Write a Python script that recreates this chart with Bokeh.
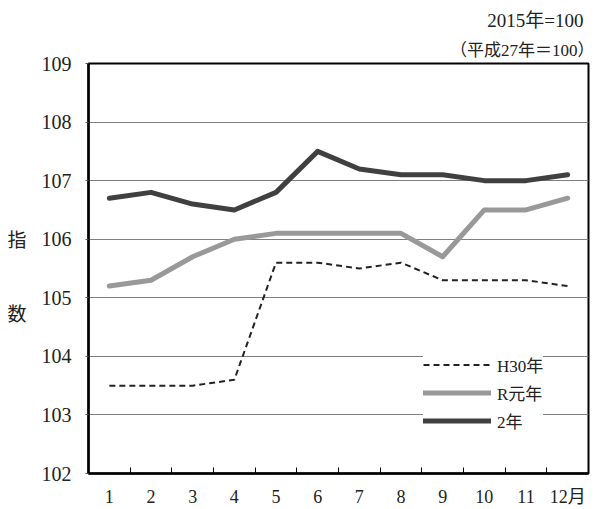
from bokeh.plotting import figure
from bokeh.models import (Range1d, FixedTicker, Legend, LegendItem, ColumnDataSource, Title)
from bokeh.embed import file_html
from bokeh.resources import INLINE

months = list(range(1, 13))
month_labels = ["1", "2", "3", "4", "5", "6", "7", "8", "9", "10", "11", "12月"]
h30 = [103.5, 103.5, 103.5, 103.6, 105.6, 105.6, 105.5, 105.6, 105.3, 105.3, 105.3, 105.2]
r1 = [105.2, 105.3, 105.7, 106.0, 106.1, 106.1, 106.1, 106.1, 105.7, 106.5, 106.5, 106.7]
r2 = [106.7, 106.8, 106.6, 106.5, 106.8, 107.5, 107.2, 107.1, 107.1, 107.0, 107.0, 107.1]
series_names = ["H30年", "R元年", "2年"]
y_ticks = [102, 103, 104, 105, 106, 107, 108, 109]

SERIF = "'Liberation Serif', 'Noto Sans CJK JP', serif"

p = figure(width=596, height=509, output_backend="svg", toolbar_location=None,
           x_range=Range1d(0.5, 12.5), y_range=Range1d(102, 109),
           min_border_left=88, min_border_right=8, min_border_top=63, min_border_bottom=35)

p.outline_line_color = "black"
p.outline_line_width = 2
p.background_fill_color = "white"
p.border_fill_color = "white"

# x axis
p.xaxis.ticker = FixedTicker(ticks=months, minor_ticks=[m + 0.5 for m in months[:-1]])
p.xaxis.major_label_overrides = {m: lab for m, lab in zip(months, month_labels)}
p.xaxis.major_tick_line_color = None
p.xaxis.major_tick_in = 0
p.xaxis.major_tick_out = 0
p.xaxis.minor_tick_in = 6
p.xaxis.minor_tick_out = 0
p.xaxis.minor_tick_line_color = "black"
p.xaxis.minor_tick_line_width = 1
p.xaxis.axis_line_width = 2.5
p.xaxis.axis_line_color = "black"
p.xaxis.major_label_text_font = SERIF
p.xaxis.major_label_text_font_size = "18px"
p.xaxis.major_label_text_color = "#222222"
p.xaxis.major_label_standoff = 13
p.xgrid.grid_line_color = None

# y axis
p.yaxis.ticker = FixedTicker(ticks=y_ticks)
p.yaxis.major_tick_out = 3
p.yaxis.major_tick_in = 0
p.yaxis.major_tick_line_color = "#555555"
p.yaxis.minor_tick_line_color = None
p.yaxis.axis_line_width = 2.5
p.yaxis.axis_line_color = "black"
p.yaxis.major_label_text_font = SERIF
p.yaxis.major_label_text_font_size = "20px"
p.yaxis.major_label_text_color = "#222222"
p.yaxis.major_label_standoff = 14
p.yaxis.axis_label = "\n指\n\n\n\n数"
p.yaxis.axis_label_orientation = "horizontal"
p.yaxis.axis_label_text_font = SERIF
p.yaxis.axis_label_text_font_size = "19px"
p.yaxis.axis_label_text_font_style = "normal"
p.yaxis.axis_label_text_color = "#222222"
p.yaxis.axis_label_text_line_height = 0.88
p.yaxis.axis_label_standoff = 12
p.ygrid.ticker = FixedTicker(ticks=y_ticks)
p.ygrid.grid_line_color = "#808080"
p.ygrid.grid_line_width = 1

src = ColumnDataSource(dict(x=months, h30=h30, r1=r1, r2=r2))
l1 = p.line("x", "h30", source=src, line_color="#222222", line_width=2, line_dash="6 4")
l2 = p.line("x", "r1", source=src, line_color="#999999", line_width=5, line_join="round", line_cap="round")
l3 = p.line("x", "r2", source=src, line_color="#404040", line_width=5, line_join="round", line_cap="round")

legend = Legend(items=[LegendItem(label=series_names[0], renderers=[l1]),
                       LegendItem(label=series_names[1], renderers=[l2]),
                       LegendItem(label=series_names[2], renderers=[l3])],
                location=(335, 40))
legend.background_fill_color = "white"
legend.background_fill_alpha = 1
legend.border_line_color = None
legend.glyph_width = 68
legend.glyph_height = 21
legend.label_height = 21
legend.spacing = 3
legend.padding = 10
legend.margin = 0
legend.label_standoff = 6
legend.label_text_font = SERIF
legend.label_text_font_size = "17px"
legend.label_text_color = "#222222"
p.add_layout(legend, "center")

# base note above the plot (first added sits closest to the frame)
t2 = Title(text="（平成27年＝100）", align="right", text_font=SERIF, text_font_size="17px",
           text_font_style="normal", text_color="#222222", standoff=8, offset=-6)
t1 = Title(text="2015年=100", align="right", text_font=SERIF, text_font_size="19px",
           text_font_style="normal", text_color="#222222", standoff=7, offset=5)
p.add_layout(t2, "above")
p.add_layout(t1, "above")

open("out.html", "w").write(file_html(p, INLINE))
